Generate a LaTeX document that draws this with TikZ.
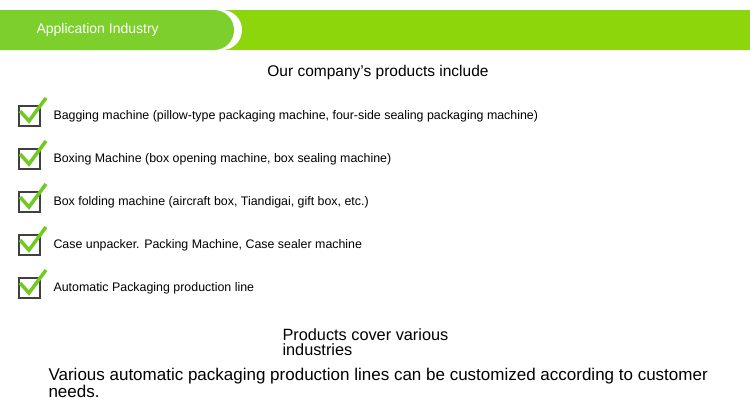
\documentclass[tikz,border=0pt]{standalone}
\usepackage{fontspec}
\setmainfont{Liberation Sans}
\definecolor{tabgreen}{HTML}{7DCF2C}
\definecolor{bandgreen}{HTML}{8ED60C}
\definecolor{checkgreen}{HTML}{6FCB1E}
\tikzset{
  item/.style={anchor=west,font=\fontsize{12.4}{14}\selectfont},
  box/.style={draw=black!75,line width=1.2pt},
  tick/.style={checkgreen,line width=3.5pt,line join=miter},
}
\begin{document}
\begin{tikzpicture}[x=1pt,y=-1pt]
  \useasboundingbox[fill=white] (0,0) rectangle (750,413);
  % header band
  \fill[bandgreen] (220,10) rectangle (750,50);
  \fill[white] (0,10) -- (222,10) arc[start angle=-90,end angle=90,radius=20] -- (0,50) -- cycle;
  \fill[tabgreen] (0,10) -- (214,10) arc[start angle=-90,end angle=90,radius=20] -- (0,50) -- cycle;
  \node[anchor=west,white,font=\fontsize{14}{16}\selectfont] (title) at (33,30) {Application Industry};
  \node[font=\fontsize{15.5}{18}\selectfont] (head) at (378,72) {Our company's products include};
  % list
  \foreach \y/\t [count=\i] in {116/{Bagging machine (pillow-type packaging machine, four-side sealing packaging machine)},
      159/{Boxing Machine (box opening machine, box sealing machine)},
      202/{Box folding machine (aircraft box, Tiandigai, gift box, etc.)},
      245/{Case unpacker. Packing Machine, Case sealer machine},
      288/{Automatic Packaging production line}}{%
    \draw[box] (19,\y-10) rectangle (40,\y+10);
    \draw[tick] (20,\y-5) -- (29,\y+5) -- (46,\y-18);
    \node[item] (item-\i) at (50,\y) {\t};
  }
  \node[anchor=north west,align=left,font=\fontsize{16.3}{15}\selectfont] (cover) at (279,325) {Products cover various\\industries};
  \node[anchor=north west,align=left,font=\fontsize{17}{17}\selectfont] (custom) at (45,365) {Various automatic packaging production lines can be customized according to customer\\needs.};
\end{tikzpicture}
\end{document}
